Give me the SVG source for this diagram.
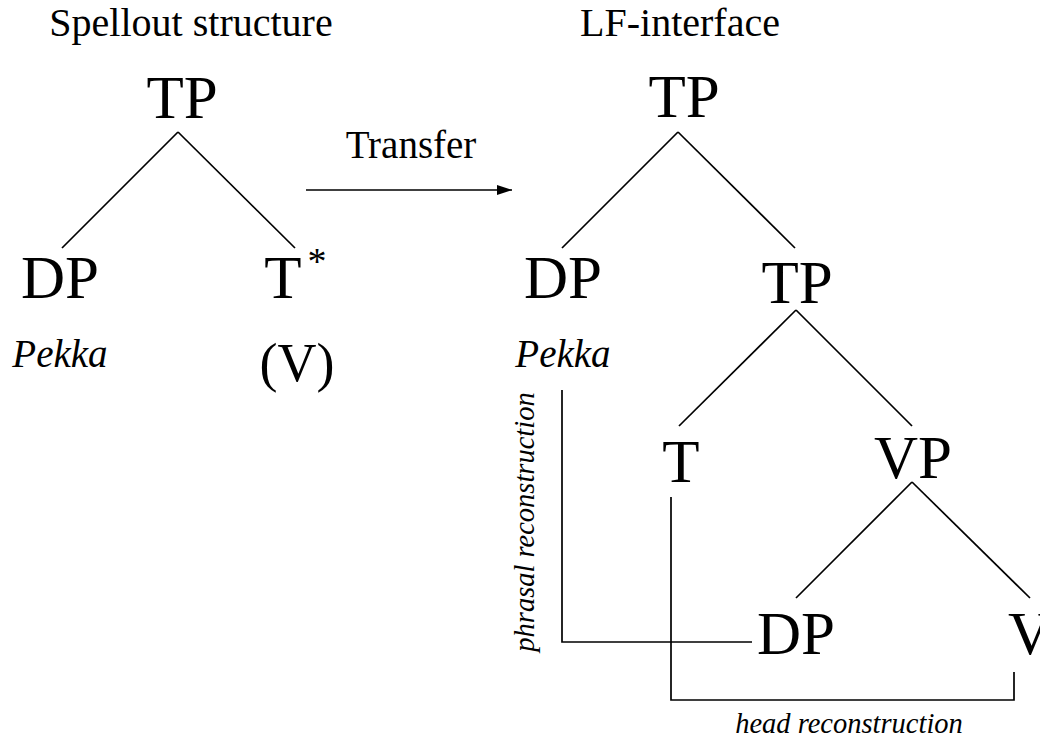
<svg xmlns="http://www.w3.org/2000/svg" width="1040" height="740" viewBox="0 0 1040 740" font-family="'Liberation Serif', 'Times New Roman', Times, serif">
  <defs>
    <style>
      text { font-family: 'Liberation Serif', 'Times New Roman', Times, serif; fill: #000; text-anchor: middle; }
      .title { font-size: 40px; }
      .cat { font-size: 61px; }
      .word { font-size: 39px; font-style: italic; }
      .note { font-size: 28.5px; font-style: italic; }
      .edge { stroke: #000; stroke-width: 1.7; fill: none; }
    </style>
    <marker id="arrowhead" viewBox="0 0 10 10" refX="10" refY="5" markerWidth="15" markerHeight="10" markerUnits="userSpaceOnUse" orient="auto" preserveAspectRatio="none">
      <path d="M0,0 L10,5 L0,10 Z" fill="#000"/>
    </marker>
  </defs>
  <rect width="1040" height="740" fill="#fff"/>

  <!-- headings -->
  <text class="title" x="191" y="36">Spellout structure</text>
  <text class="title" x="680" y="36">LF-interface</text>

  <!-- spellout tree -->
  <g id="sp-tp"><text class="cat" x="182" y="118">TP</text></g>
  <g id="sp-dp"><text class="cat" x="60" y="298">DP</text><text class="word" x="60" y="367">Pekka</text></g>
  <g id="sp-t"><text class="cat" x="283" y="298">T</text><text x="317" y="274" style="font-size:38px">*</text><text x="297" y="381" style="font-size:54px">(V)</text></g>

  <!-- transfer -->
  <g id="transfer"><text x="411" y="158" style="font-size:39px">Transfer</text></g>

  <!-- LF tree -->
  <g id="lf-tp"><text class="cat" x="684" y="117">TP</text></g>
  <g id="lf-dp"><text class="cat" x="563" y="298">DP</text><text class="word" x="563" y="367">Pekka</text></g>
  <g id="lf-tp2"><text class="cat" x="797" y="303">TP</text></g>
  <g id="lf-t"><text class="cat" x="681" y="482">T</text></g>
  <g id="lf-vp"><text class="cat" x="913" y="478">VP</text></g>
  <g id="lf-dp2"><text class="cat" x="796" y="654">DP</text></g>
  <g id="lf-v"><text class="cat" x="1030" y="654">V</text></g>

  <!-- reconstruction labels -->
  <g id="phrasal-label"><text class="note" transform="translate(534,522) rotate(-90)" x="0" y="0">phrasal reconstruction</text></g>
  <g id="head-label"><text class="note" x="849" y="733">head reconstruction</text></g>

  <g id="connectors">
    <!-- spellout branches -->
    <line class="edge" x1="178" y1="132" x2="62" y2="248"/>
    <line class="edge" x1="178" y1="132" x2="295" y2="248"/>
    <!-- transfer arrow -->
    <line class="edge" x1="306" y1="190" x2="512" y2="190" marker-end="url(#arrowhead)"/>
    <!-- LF branches -->
    <line class="edge" x1="678" y1="132" x2="562" y2="248"/>
    <line class="edge" x1="678" y1="132" x2="795" y2="248"/>
    <line class="edge" x1="796" y1="310" x2="679" y2="426"/>
    <line class="edge" x1="796" y1="310" x2="912" y2="426"/>
    <line class="edge" x1="912" y1="482" x2="796" y2="598"/>
    <line class="edge" x1="912" y1="482" x2="1030" y2="598"/>
    <!-- phrasal reconstruction -->
    <polyline class="edge" points="562,390 562,642 752,642"/>
    <!-- head reconstruction -->
    <polyline class="edge" points="671,497 671,700 1014,700 1014,672"/>
  </g>
</svg>
